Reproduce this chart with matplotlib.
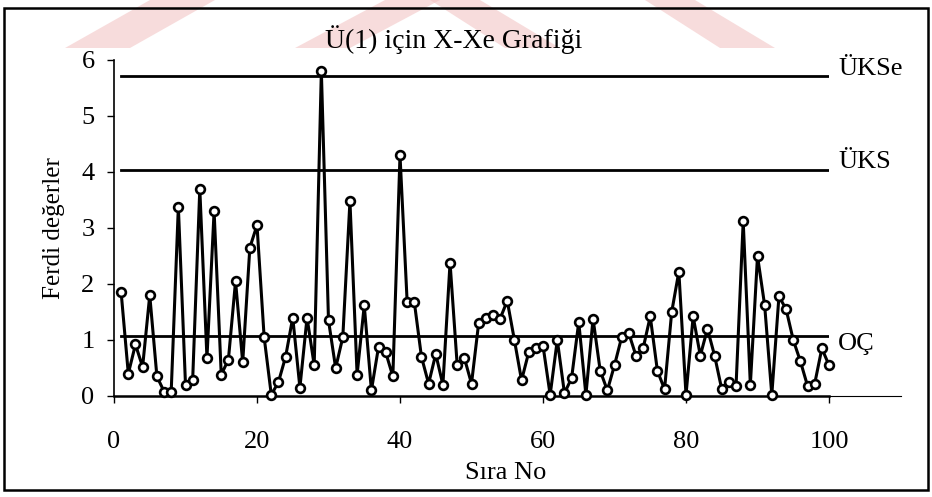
import numpy as np
import matplotlib
matplotlib.use('Agg')
import matplotlib.pyplot as plt
from matplotlib.patches import Rectangle, Polygon

plt.rcParams['font.family'] = ['Liberation Serif', 'DejaVu Serif']

# sira no / ferdi degerler
sira_no = list(range(1, 101))
ferdi = [1.85, 0.40, 0.92, 0.52, 1.80, 0.35, 0.08, 0.08, 3.38, 0.20,
         0.28, 3.70, 0.68, 3.30, 0.38, 0.65, 2.05, 0.60, 2.65, 3.05,
         1.05, 0.02, 0.25, 0.70, 1.40, 0.15, 1.40, 0.55, 5.80, 1.35,
         0.50, 1.05, 3.48, 0.38, 1.62, 0.10, 0.88, 0.78, 0.35, 4.30,
         1.68, 1.68, 0.70, 0.22, 0.75, 0.20, 2.38, 0.55, 0.68, 0.22,
         1.30, 1.40, 1.45, 1.38, 1.70, 1.00, 0.28, 0.78, 0.85, 0.90,
         0.02, 1.00, 0.05, 0.32, 1.32, 0.02, 1.38, 0.45, 0.10, 0.55,
         1.05, 1.12, 0.72, 0.85, 1.42, 0.45, 0.12, 1.50, 2.22, 0.02,
         1.42, 0.72, 1.20, 0.72, 0.12, 0.25, 0.18, 3.12, 0.20, 2.50,
         1.62, 0.02, 1.78, 1.55, 1.00, 0.62, 0.18, 0.22, 0.85, 0.55]

# kontrol sinirlari
limit_names = ['ÜKSe', 'ÜKS', 'OÇ']
limit_values = [5.71, 4.04, 1.07]
limit_label_y = [5.84, 4.18, 0.92]

x_ticks = [0, 20, 40, 60, 80, 100]
y_ticks = [0, 1, 2, 3, 4, 5, 6]

fig = plt.figure(figsize=(9.32, 4.97), dpi=100)

# watermark remains at the top of the scan (behind everything)
for xs in [(65, 150, 215, 130), (295, 385, 440, 350), (505, 430, 480, 560), (720, 645, 695, 775)]:
    pts = [(xs[0] / 932, 1 - 48 / 497), (xs[1] / 932, 1.0), (xs[2] / 932, 1.0), (xs[3] / 932, 1 - 48 / 497)]
    fig.patches.append(Polygon(pts, closed=True, transform=fig.transFigure,
                               facecolor='#f2c0c0', edgecolor='none', alpha=0.55, zorder=-5))

# outer frame
fig.patches.append(Rectangle((4 / 932, 7 / 497), 924 / 932, 482 / 497, transform=fig.transFigure,
                             fill=False, edgecolor='black', linewidth=1.8, zorder=1))

ax = fig.add_axes([114 / 932, 1 - 396 / 497, 715 / 932, 336 / 497])
ax.patch.set_alpha(0)

for name, val, ly in zip(limit_names, limit_values, limit_label_y):
    ax.axhline(val, xmin=0.01, xmax=1.0, color='black', linewidth=2.0, zorder=2)
    ax.text(101.3, ly, name, fontsize=19, va='center', ha='left', clip_on=False)

ax.plot(sira_no, ferdi, color='black', linewidth=2.2, marker='o', markersize=6.3,
        markerfacecolor='white', markeredgecolor='black', markeredgewidth=1.9, zorder=3,
        clip_on=False)

ax.set_xlim(0, 100)
ax.set_ylim(0, 6)
ax.set_xticks(x_ticks)
ax.set_yticks(y_ticks)
ax.tick_params(direction='out', length=5, width=1, labelsize=19)
ax.tick_params(axis='x', pad=20)
ax.tick_params(axis='y', pad=9)

for s in ['top', 'right']:
    ax.spines[s].set_visible(False)
ax.spines['left'].set_linewidth(1.2)
ax.spines['bottom'].set_linewidth(1.8)
# baseline runs on a bit past 100
ax.plot([100, 110], [0, 0], color='black', linewidth=0.8, clip_on=False)

ax.text(54.8, -1.38, 'Sıra No', fontsize=19, ha='center', va='center')
ax.set_ylabel('Ferdi değerler', fontsize=18, labelpad=12)
ax.text(47.5, 6.1, 'Ü(1) için X-Xe Grafiği', fontsize=20, ha='center', va='bottom')

fig.savefig('out.png', dpi=100)
